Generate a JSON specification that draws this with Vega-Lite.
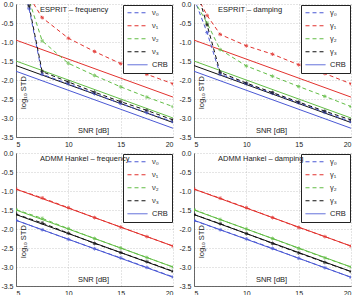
{
  "$schema": "https://vega.github.io/schema/vega-lite/v6.json",
  "padding": 0,
  "bounds": "flush",
  "columns": 2,
  "spacing": {"row": 16, "column": 21},
  "datasets": {
    "espritFreq": [
      {"snr": 5, "v": 1.3, "param": "ν₀", "kind": "est"},
      {"snr": 6.25, "v": -0.12, "param": "ν₀", "kind": "est"},
      {"snr": 7.5, "v": -1.85, "param": "ν₀", "kind": "est"},
      {"snr": 10, "v": -2.1, "param": "ν₀", "kind": "est"},
      {"snr": 12.5, "v": -2.36, "param": "ν₀", "kind": "est"},
      {"snr": 15, "v": -2.62, "param": "ν₀", "kind": "est"},
      {"snr": 17.5, "v": -2.86, "param": "ν₀", "kind": "est"},
      {"snr": 20, "v": -3.1, "param": "ν₀", "kind": "est"},
      {"snr": 5, "v": 0.8, "param": "ν₁", "kind": "est"},
      {"snr": 6.25, "v": 0.2, "param": "ν₁", "kind": "est"},
      {"snr": 7.5, "v": -0.36, "param": "ν₁", "kind": "est"},
      {"snr": 10, "v": -0.9, "param": "ν₁", "kind": "est"},
      {"snr": 12.5, "v": -1.25, "param": "ν₁", "kind": "est"},
      {"snr": 15, "v": -1.57, "param": "ν₁", "kind": "est"},
      {"snr": 17.5, "v": -1.85, "param": "ν₁", "kind": "est"},
      {"snr": 20, "v": -2.1, "param": "ν₁", "kind": "est"},
      {"snr": 5, "v": 1.1, "param": "ν₂", "kind": "est"},
      {"snr": 6.25, "v": 0.1, "param": "ν₂", "kind": "est"},
      {"snr": 7.5, "v": -0.97, "param": "ν₂", "kind": "est"},
      {"snr": 10, "v": -1.56, "param": "ν₂", "kind": "est"},
      {"snr": 12.5, "v": -1.88, "param": "ν₂", "kind": "est"},
      {"snr": 15, "v": -2.18, "param": "ν₂", "kind": "est"},
      {"snr": 17.5, "v": -2.45, "param": "ν₂", "kind": "est"},
      {"snr": 20, "v": -2.7, "param": "ν₂", "kind": "est"},
      {"snr": 5, "v": 1.2, "param": "ν₃", "kind": "est"},
      {"snr": 6.25, "v": -0.05, "param": "ν₃", "kind": "est"},
      {"snr": 7.5, "v": -1.78, "param": "ν₃", "kind": "est"},
      {"snr": 10, "v": -2.05, "param": "ν₃", "kind": "est"},
      {"snr": 12.5, "v": -2.32, "param": "ν₃", "kind": "est"},
      {"snr": 15, "v": -2.57, "param": "ν₃", "kind": "est"},
      {"snr": 17.5, "v": -2.8, "param": "ν₃", "kind": "est"},
      {"snr": 20, "v": -3.05, "param": "ν₃", "kind": "est"},
      {"snr": 5, "v": -1.77, "param": "ν₀", "kind": "crb"},
      {"snr": 20, "v": -3.27, "param": "ν₀", "kind": "crb"},
      {"snr": 5, "v": -0.95, "param": "ν₁", "kind": "crb"},
      {"snr": 20, "v": -2.45, "param": "ν₁", "kind": "crb"},
      {"snr": 5, "v": -1.5, "param": "ν₂", "kind": "crb"},
      {"snr": 20, "v": -3.0, "param": "ν₂", "kind": "crb"},
      {"snr": 5, "v": -1.62, "param": "ν₃", "kind": "crb"},
      {"snr": 20, "v": -3.12, "param": "ν₃", "kind": "crb"}
    ],
    "espritDamp": [
      {"snr": 5, "v": 0.15, "param": "γ₀", "kind": "est"},
      {"snr": 6.25, "v": -0.75, "param": "γ₀", "kind": "est"},
      {"snr": 7.5, "v": -1.85, "param": "γ₀", "kind": "est"},
      {"snr": 10, "v": -2.1, "param": "γ₀", "kind": "est"},
      {"snr": 12.5, "v": -2.35, "param": "γ₀", "kind": "est"},
      {"snr": 15, "v": -2.6, "param": "γ₀", "kind": "est"},
      {"snr": 17.5, "v": -2.85, "param": "γ₀", "kind": "est"},
      {"snr": 20, "v": -3.1, "param": "γ₀", "kind": "est"},
      {"snr": 5, "v": 0.35, "param": "γ₁", "kind": "est"},
      {"snr": 6.25, "v": -0.3, "param": "γ₁", "kind": "est"},
      {"snr": 7.5, "v": -0.8, "param": "γ₁", "kind": "est"},
      {"snr": 10, "v": -1.1, "param": "γ₁", "kind": "est"},
      {"snr": 12.5, "v": -1.32, "param": "γ₁", "kind": "est"},
      {"snr": 15, "v": -1.6, "param": "γ₁", "kind": "est"},
      {"snr": 17.5, "v": -1.83, "param": "γ₁", "kind": "est"},
      {"snr": 20, "v": -2.1, "param": "γ₁", "kind": "est"},
      {"snr": 5, "v": 0.1, "param": "γ₂", "kind": "est"},
      {"snr": 6.25, "v": -0.5, "param": "γ₂", "kind": "est"},
      {"snr": 7.5, "v": -1.2, "param": "γ₂", "kind": "est"},
      {"snr": 10, "v": -1.63, "param": "γ₂", "kind": "est"},
      {"snr": 12.5, "v": -1.9, "param": "γ₂", "kind": "est"},
      {"snr": 15, "v": -2.17, "param": "γ₂", "kind": "est"},
      {"snr": 17.5, "v": -2.43, "param": "γ₂", "kind": "est"},
      {"snr": 20, "v": -2.7, "param": "γ₂", "kind": "est"},
      {"snr": 5, "v": 0.6, "param": "γ₃", "kind": "est"},
      {"snr": 6.25, "v": -0.55, "param": "γ₃", "kind": "est"},
      {"snr": 7.5, "v": -1.8, "param": "γ₃", "kind": "est"},
      {"snr": 10, "v": -2.08, "param": "γ₃", "kind": "est"},
      {"snr": 12.5, "v": -2.33, "param": "γ₃", "kind": "est"},
      {"snr": 15, "v": -2.58, "param": "γ₃", "kind": "est"},
      {"snr": 17.5, "v": -2.82, "param": "γ₃", "kind": "est"},
      {"snr": 20, "v": -3.05, "param": "γ₃", "kind": "est"},
      {"snr": 5, "v": -1.77, "param": "γ₀", "kind": "crb"},
      {"snr": 20, "v": -3.27, "param": "γ₀", "kind": "crb"},
      {"snr": 5, "v": -0.95, "param": "γ₁", "kind": "crb"},
      {"snr": 20, "v": -2.45, "param": "γ₁", "kind": "crb"},
      {"snr": 5, "v": -1.5, "param": "γ₂", "kind": "crb"},
      {"snr": 20, "v": -3.0, "param": "γ₂", "kind": "crb"},
      {"snr": 5, "v": -1.62, "param": "γ₃", "kind": "crb"},
      {"snr": 20, "v": -3.12, "param": "γ₃", "kind": "crb"}
    ],
    "admmFreq": [
      {"snr": 5, "v": -1.77, "param": "ν₀", "kind": "est"},
      {"snr": 7.5, "v": -2.02, "param": "ν₀", "kind": "est"},
      {"snr": 10, "v": -2.27, "param": "ν₀", "kind": "est"},
      {"snr": 12.5, "v": -2.52, "param": "ν₀", "kind": "est"},
      {"snr": 15, "v": -2.76, "param": "ν₀", "kind": "est"},
      {"snr": 17.5, "v": -3.01, "param": "ν₀", "kind": "est"},
      {"snr": 20, "v": -3.26, "param": "ν₀", "kind": "est"},
      {"snr": 5, "v": -0.95, "param": "ν₁", "kind": "est"},
      {"snr": 7.5, "v": -1.18, "param": "ν₁", "kind": "est"},
      {"snr": 10, "v": -1.44, "param": "ν₁", "kind": "est"},
      {"snr": 12.5, "v": -1.7, "param": "ν₁", "kind": "est"},
      {"snr": 15, "v": -1.95, "param": "ν₁", "kind": "est"},
      {"snr": 17.5, "v": -2.2, "param": "ν₁", "kind": "est"},
      {"snr": 20, "v": -2.45, "param": "ν₁", "kind": "est"},
      {"snr": 5, "v": -1.49, "param": "ν₂", "kind": "est"},
      {"snr": 7.5, "v": -1.72, "param": "ν₂", "kind": "est"},
      {"snr": 10, "v": -1.99, "param": "ν₂", "kind": "est"},
      {"snr": 12.5, "v": -2.25, "param": "ν₂", "kind": "est"},
      {"snr": 15, "v": -2.5, "param": "ν₂", "kind": "est"},
      {"snr": 17.5, "v": -2.75, "param": "ν₂", "kind": "est"},
      {"snr": 20, "v": -3.0, "param": "ν₂", "kind": "est"},
      {"snr": 5, "v": -1.61, "param": "ν₃", "kind": "est"},
      {"snr": 7.5, "v": -1.84, "param": "ν₃", "kind": "est"},
      {"snr": 10, "v": -2.11, "param": "ν₃", "kind": "est"},
      {"snr": 12.5, "v": -2.38, "param": "ν₃", "kind": "est"},
      {"snr": 15, "v": -2.62, "param": "ν₃", "kind": "est"},
      {"snr": 17.5, "v": -2.86, "param": "ν₃", "kind": "est"},
      {"snr": 20, "v": -3.11, "param": "ν₃", "kind": "est"},
      {"snr": 5, "v": -1.77, "param": "ν₀", "kind": "crb"},
      {"snr": 20, "v": -3.27, "param": "ν₀", "kind": "crb"},
      {"snr": 5, "v": -0.95, "param": "ν₁", "kind": "crb"},
      {"snr": 20, "v": -2.45, "param": "ν₁", "kind": "crb"},
      {"snr": 5, "v": -1.5, "param": "ν₂", "kind": "crb"},
      {"snr": 20, "v": -3.0, "param": "ν₂", "kind": "crb"},
      {"snr": 5, "v": -1.62, "param": "ν₃", "kind": "crb"},
      {"snr": 20, "v": -3.12, "param": "ν₃", "kind": "crb"}
    ],
    "admmDamp": [
      {"snr": 5, "v": -1.78, "param": "γ₀", "kind": "est"},
      {"snr": 7.5, "v": -2.02, "param": "γ₀", "kind": "est"},
      {"snr": 10, "v": -2.26, "param": "γ₀", "kind": "est"},
      {"snr": 12.5, "v": -2.51, "param": "γ₀", "kind": "est"},
      {"snr": 15, "v": -2.77, "param": "γ₀", "kind": "est"},
      {"snr": 17.5, "v": -3.02, "param": "γ₀", "kind": "est"},
      {"snr": 20, "v": -3.27, "param": "γ₀", "kind": "est"},
      {"snr": 5, "v": -0.95, "param": "γ₁", "kind": "est"},
      {"snr": 7.5, "v": -1.19, "param": "γ₁", "kind": "est"},
      {"snr": 10, "v": -1.44, "param": "γ₁", "kind": "est"},
      {"snr": 12.5, "v": -1.7, "param": "γ₁", "kind": "est"},
      {"snr": 15, "v": -1.96, "param": "γ₁", "kind": "est"},
      {"snr": 17.5, "v": -2.2, "param": "γ₁", "kind": "est"},
      {"snr": 20, "v": -2.45, "param": "γ₁", "kind": "est"},
      {"snr": 5, "v": -1.49, "param": "γ₂", "kind": "est"},
      {"snr": 7.5, "v": -1.75, "param": "γ₂", "kind": "est"},
      {"snr": 10, "v": -2.0, "param": "γ₂", "kind": "est"},
      {"snr": 12.5, "v": -2.25, "param": "γ₂", "kind": "est"},
      {"snr": 15, "v": -2.51, "param": "γ₂", "kind": "est"},
      {"snr": 17.5, "v": -2.76, "param": "γ₂", "kind": "est"},
      {"snr": 20, "v": -3.0, "param": "γ₂", "kind": "est"},
      {"snr": 5, "v": -1.62, "param": "γ₃", "kind": "est"},
      {"snr": 7.5, "v": -1.86, "param": "γ₃", "kind": "est"},
      {"snr": 10, "v": -2.12, "param": "γ₃", "kind": "est"},
      {"snr": 12.5, "v": -2.38, "param": "γ₃", "kind": "est"},
      {"snr": 15, "v": -2.63, "param": "γ₃", "kind": "est"},
      {"snr": 17.5, "v": -2.88, "param": "γ₃", "kind": "est"},
      {"snr": 20, "v": -3.12, "param": "γ₃", "kind": "est"},
      {"snr": 5, "v": -1.77, "param": "γ₀", "kind": "crb"},
      {"snr": 20, "v": -3.27, "param": "γ₀", "kind": "crb"},
      {"snr": 5, "v": -0.95, "param": "γ₁", "kind": "crb"},
      {"snr": 20, "v": -2.45, "param": "γ₁", "kind": "crb"},
      {"snr": 5, "v": -1.5, "param": "γ₂", "kind": "crb"},
      {"snr": 20, "v": -3.0, "param": "γ₂", "kind": "crb"},
      {"snr": 5, "v": -1.62, "param": "γ₃", "kind": "crb"},
      {"snr": 20, "v": -3.12, "param": "γ₃", "kind": "crb"}
    ]
  },
  "concat": [
    {
      "width": 157, "height": 133,
      "title": {"text": "ESPRIT – frequency"},
      "data": {"name": "espritFreq"},
      "encoding": {
        "x": {"field": "snr", "type": "quantitative", "scale": {"domain": [5, 20], "nice": false, "zero": false}, "axis": {"values": [5, 10, 15, 20], "title": "SNR [dB]"}},
        "y": {"field": "v", "type": "quantitative", "scale": {"domain": [-3.5, 0], "nice": false, "zero": false}, "axis": {"values": [0, -0.5, -1, -1.5, -2, -2.5, -3, -3.5], "title": "log₁₀ STD"}}
      },
      "layer": [
        {"transform": [{"filter": "datum.kind === 'crb'"}], "mark": {"type": "line", "clip": true, "strokeWidth": 1}, "encoding": {"stroke": {"field": "param", "type": "nominal", "scale": {"domain": ["ν₀", "ν₁", "ν₂", "ν₃"], "range": ["#4a58d4", "#e2322e", "#62bd45", "#111111"]}, "legend": null}}},
        {"transform": [{"filter": "datum.kind === 'est'"}], "mark": {"type": "line", "clip": true, "strokeWidth": 1}, "encoding": {
          "color": {"field": "param", "type": "nominal", "scale": {"domain": ["ν₀", "ν₁", "ν₂", "ν₃", "CRB"], "range": ["#4a58d4", "#e2322e", "#62bd45", "#111111", "#4a58d4"]}, "legend": {"title": null}},
          "strokeDash": {"field": "param", "type": "nominal", "scale": {"domain": ["ν₀", "ν₁", "ν₂", "ν₃", "CRB"], "range": [[4, 3], [4, 3], [4, 3], [4, 3], [1, 0]]}, "legend": {"title": null}}}},
        {"transform": [{"filter": "datum.kind === 'est'"}], "mark": {"type": "point", "clip": true, "filled": false, "size": 14, "strokeWidth": 1, "shape": "M-1,0L1,0M0,-1L0,1M-0.7,-0.7L0.7,0.7M-0.7,0.7L0.7,-0.7"}, "encoding": {"stroke": {"field": "param", "type": "nominal", "legend": null}}}
      ]
    },
    {
      "width": 157, "height": 133,
      "title": {"text": "ESPRIT – damping"},
      "data": {"name": "espritDamp"},
      "encoding": {
        "x": {"field": "snr", "type": "quantitative", "scale": {"domain": [5, 20], "nice": false, "zero": false}, "axis": {"values": [5, 10, 15, 20], "title": "SNR [dB]"}},
        "y": {"field": "v", "type": "quantitative", "scale": {"domain": [-3.5, 0], "nice": false, "zero": false}, "axis": {"values": [0, -0.5, -1, -1.5, -2, -2.5, -3, -3.5], "title": "log₁₀ STD"}}
      },
      "layer": [
        {"transform": [{"filter": "datum.kind === 'crb'"}], "mark": {"type": "line", "clip": true, "strokeWidth": 1}, "encoding": {"stroke": {"field": "param", "type": "nominal", "scale": {"domain": ["γ₀", "γ₁", "γ₂", "γ₃"], "range": ["#4a58d4", "#e2322e", "#62bd45", "#111111"]}, "legend": null}}},
        {"transform": [{"filter": "datum.kind === 'est'"}], "mark": {"type": "line", "clip": true, "strokeWidth": 1}, "encoding": {
          "color": {"field": "param", "type": "nominal", "scale": {"domain": ["γ₀", "γ₁", "γ₂", "γ₃", "CRB"], "range": ["#4a58d4", "#e2322e", "#62bd45", "#111111", "#4a58d4"]}, "legend": {"title": null}},
          "strokeDash": {"field": "param", "type": "nominal", "scale": {"domain": ["γ₀", "γ₁", "γ₂", "γ₃", "CRB"], "range": [[4, 3], [4, 3], [4, 3], [4, 3], [1, 0]]}, "legend": {"title": null}}}},
        {"transform": [{"filter": "datum.kind === 'est'"}], "mark": {"type": "point", "clip": true, "filled": false, "size": 14, "strokeWidth": 1, "shape": "M-1,0L1,0M0,-1L0,1M-0.7,-0.7L0.7,0.7M-0.7,0.7L0.7,-0.7"}, "encoding": {"stroke": {"field": "param", "type": "nominal", "legend": null}}}
      ]
    },
    {
      "width": 157, "height": 133,
      "title": {"text": "ADMM Hankel – frequency"},
      "data": {"name": "admmFreq"},
      "encoding": {
        "x": {"field": "snr", "type": "quantitative", "scale": {"domain": [5, 20], "nice": false, "zero": false}, "axis": {"values": [5, 10, 15, 20], "title": "SNR [dB]"}},
        "y": {"field": "v", "type": "quantitative", "scale": {"domain": [-3.5, 0], "nice": false, "zero": false}, "axis": {"values": [0, -0.5, -1, -1.5, -2, -2.5, -3, -3.5], "title": "log₁₀ STD"}}
      },
      "layer": [
        {"transform": [{"filter": "datum.kind === 'crb'"}], "mark": {"type": "line", "clip": true, "strokeWidth": 1}, "encoding": {"stroke": {"field": "param", "type": "nominal", "scale": {"domain": ["ν₀", "ν₁", "ν₂", "ν₃"], "range": ["#4a58d4", "#e2322e", "#62bd45", "#111111"]}, "legend": null}}},
        {"transform": [{"filter": "datum.kind === 'est'"}], "mark": {"type": "line", "clip": true, "strokeWidth": 1}, "encoding": {
          "color": {"field": "param", "type": "nominal", "scale": {"domain": ["ν₀", "ν₁", "ν₂", "ν₃", "CRB"], "range": ["#4a58d4", "#e2322e", "#62bd45", "#111111", "#4a58d4"]}, "legend": {"title": null}},
          "strokeDash": {"field": "param", "type": "nominal", "scale": {"domain": ["ν₀", "ν₁", "ν₂", "ν₃", "CRB"], "range": [[4, 3], [4, 3], [4, 3], [4, 3], [1, 0]]}, "legend": {"title": null}}}},
        {"transform": [{"filter": "datum.kind === 'est'"}], "mark": {"type": "point", "clip": true, "filled": false, "size": 14, "strokeWidth": 1, "shape": "M-1,0L1,0M0,-1L0,1M-0.7,-0.7L0.7,0.7M-0.7,0.7L0.7,-0.7"}, "encoding": {"stroke": {"field": "param", "type": "nominal", "legend": null}}}
      ]
    },
    {
      "width": 157, "height": 133,
      "title": {"text": "ADMM Hankel – damping"},
      "data": {"name": "admmDamp"},
      "encoding": {
        "x": {"field": "snr", "type": "quantitative", "scale": {"domain": [5, 20], "nice": false, "zero": false}, "axis": {"values": [5, 10, 15, 20], "title": "SNR [dB]"}},
        "y": {"field": "v", "type": "quantitative", "scale": {"domain": [-3.5, 0], "nice": false, "zero": false}, "axis": {"values": [0, -0.5, -1, -1.5, -2, -2.5, -3, -3.5], "title": "log₁₀ STD"}}
      },
      "layer": [
        {"transform": [{"filter": "datum.kind === 'crb'"}], "mark": {"type": "line", "clip": true, "strokeWidth": 1}, "encoding": {"stroke": {"field": "param", "type": "nominal", "scale": {"domain": ["γ₀", "γ₁", "γ₂", "γ₃"], "range": ["#4a58d4", "#e2322e", "#62bd45", "#111111"]}, "legend": null}}},
        {"transform": [{"filter": "datum.kind === 'est'"}], "mark": {"type": "line", "clip": true, "strokeWidth": 1}, "encoding": {
          "color": {"field": "param", "type": "nominal", "scale": {"domain": ["γ₀", "γ₁", "γ₂", "γ₃", "CRB"], "range": ["#4a58d4", "#e2322e", "#62bd45", "#111111", "#4a58d4"]}, "legend": {"title": null}},
          "strokeDash": {"field": "param", "type": "nominal", "scale": {"domain": ["γ₀", "γ₁", "γ₂", "γ₃", "CRB"], "range": [[4, 3], [4, 3], [4, 3], [4, 3], [1, 0]]}, "legend": {"title": null}}}},
        {"transform": [{"filter": "datum.kind === 'est'"}], "mark": {"type": "point", "clip": true, "filled": false, "size": 14, "strokeWidth": 1, "shape": "M-1,0L1,0M0,-1L0,1M-0.7,-0.7L0.7,0.7M-0.7,0.7L0.7,-0.7"}, "encoding": {"stroke": {"field": "param", "type": "nominal", "legend": null}}}
      ]
    }
  ],
  "resolve": {"scale": {"color": "independent", "strokeDash": "independent", "stroke": "independent"}, "legend": {"color": "independent", "strokeDash": "independent"}},
  "config": {
    "view": {"stroke": null},
    "font": "Liberation Sans",
    "axis": {
      "domainColor": "#444444", "domainWidth": 0.8, "tickSize": 0,
      "labelFontSize": 7, "labelColor": "#222222", "labelPadding": 3,
      "labelExpr": "replace(datum.label, '−', '-')",
      "grid": true, "gridColor": "#a8a8a8", "gridDash": [1, 2], "gridWidth": 0.6,
      "titleFontSize": 7.5, "titleFontWeight": "normal", "titleColor": "#222222"
    },
    "axisX": {"titleX": 77, "titleY": -5, "titleBaseline": "alphabetic", "titleAlign": "center"},
    "axisY": {"titleX": 9, "titleY": 88, "titleBaseline": "alphabetic", "titleAngle": -90, "titleAlign": "center"},
    "legend": {
      "orient": "top-right", "offset": 1, "strokeColor": "#222222", "fillColor": "white",
      "padding": 4, "symbolType": "stroke", "symbolSize": 400, "symbolStrokeWidth": 1,
      "labelFontSize": 7.5, "labelColor": "#222222", "labelOffset": 4, "rowPadding": 4, "clipHeight": 7.5
    },
    "title": {"anchor": "start", "frame": "group", "offset": 0, "baseline": "middle", "dx": 24, "dy": 17, "fontSize": 7.5, "fontWeight": "normal", "color": "#222222"}
  }
}
